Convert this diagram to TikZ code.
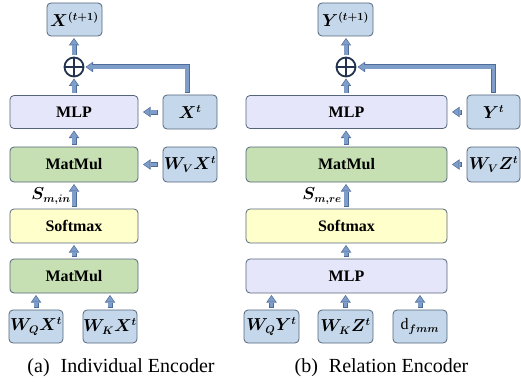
\documentclass[tikz,border=0pt]{standalone}
\usepackage{fontspec}
\setmainfont{Liberation Serif}
\usepackage{bm}
\usetikzlibrary{arrows.meta}

\definecolor{boxline}{HTML}{56657A}
\definecolor{bluefill}{HTML}{C5D8EB}
\definecolor{lavfill}{HTML}{E6E6FA}
\definecolor{greenfill}{HTML}{C6E0B4}
\definecolor{yellowfill}{HTML}{FFFFCC}
\definecolor{arrline}{HTML}{4E6C99}
\definecolor{arrfill}{HTML}{7F9DC9}
\definecolor{plusc}{HTML}{22324F}

\tikzset{
  box/.style={draw=boxline, line width=0.8pt, rounded corners=4pt, inner sep=0pt,
    outer sep=2pt, font=\fontsize{16}{19}\selectfont\bfseries},
  vecbox/.style={box, fill=bluefill},
  mlpbox/.style={box, fill=lavfill},
  mulbox/.style={box, fill=greenfill},
  softbox/.style={box, fill=yellowfill},
  % block arrows: a dark outline stroke with a lighter stroke on top
  arrout/.style={draw=arrline, line width=5pt,
    -{Triangle[width=10.5pt,length=7.5pt,line width=0pt]}},
  arrin/.style={draw=arrfill, line width=3.4pt, shorten >=1.2pt, shorten <=0.8pt,
    -{Triangle[width=7.8pt,length=5.4pt,line width=0pt]}},
  plus/.style={circle, draw=plusc, line width=1.8pt, minimum size=19pt, inner sep=0pt,
    outer sep=2pt, path picture={\draw[plusc, line width=1.8pt]
      (path picture bounding box.north) -- (path picture bounding box.south)
      (path picture bounding box.west) -- (path picture bounding box.east);}},
  caption/.style={font=\fontsize{20}{24}\selectfont, inner sep=0pt},
  slabel/.style={font=\fontsize{16}{19}\selectfont, inner sep=0pt, anchor=east},
}
\newcommand\flow[1]{\draw[arrout] #1; \draw[arrin] #1;}

\begin{document}
\begin{tikzpicture}[x=1pt, y=-1pt]
\useasboundingbox (0,0) rectangle (521,385);

% ---------------- (a) Individual Encoder ----------------
\node[vecbox, minimum width=55pt, minimum height=33pt] (xt1) at (74.5,19.5) {$\bm{X^{(t+1)}}$};
\node[plus] (plusL) at (74,67) {};
\node[mlpbox, minimum width=128pt, minimum height=33pt] (mlpL) at (74,112) {MLP};
\node[vecbox, minimum width=54pt, minimum height=34pt] (xt) at (190,112) {$\bm{X^{t}}$};
\node[mulbox, minimum width=128pt, minimum height=35pt] (matL) at (74,164.5) {MatMul};
\node[vecbox, minimum width=54pt, minimum height=35pt] (wvx) at (190,164.5) {$\bm{W_{V}X^{t}}$};
\node[softbox, minimum width=128pt, minimum height=34pt] (softL) at (74,226) {Softmax};
\node[mulbox, minimum width=128pt, minimum height=34pt] (mat2L) at (74,276) {MatMul};
\node[vecbox, minimum width=54pt, minimum height=33pt] (wqx) at (36,326.5) {$\bm{W_{Q}X^{t}}$};
\node[vecbox, minimum width=54pt, minimum height=33pt] (wkx) at (110,326.5) {$\bm{W_{K}X^{t}}$};
\node[slabel] (sin) at (71,196) {$\bm{S_{m,in}}$};
\node[caption] (capa) at (121,368) {(a)\hspace{0.55em}Individual Encoder};

\flow{(mlpL.north) -- (plusL.south)}
\flow{(plusL.north) -- (plusL.north |- xt1.south)}
\flow{([xshift=-3pt]xt.north) |- (plusL.east)}
\flow{([xshift=-3pt]xt.west) -- ([xshift=3pt]mlpL.east)}
\flow{(matL.north) -- (mlpL.south)}
\flow{([xshift=-3pt]wvx.west) -- ([xshift=3pt]matL.east)}
\flow{(softL.north) -- (matL.south)}
\flow{(mat2L.north) -- (softL.south)}
\flow{(wqx.north) -- (wqx.north |- mat2L.south)}
\flow{(wkx.north) -- (wkx.north |- mat2L.south)}

% ---------------- (b) Relation Encoder ----------------
\node[vecbox, minimum width=55pt, minimum height=33pt] (yt1) at (345.5,19.5) {$\bm{Y^{(t+1)}}$};
\node[plus] (plusR) at (346,67) {};
\node[mlpbox, minimum width=201pt, minimum height=33pt] (mlpR) at (346.5,112) {MLP};
\node[vecbox, minimum width=53pt, minimum height=34pt] (yt) at (493.5,112) {$\bm{Y^{t}}$};
\node[mulbox, minimum width=201pt, minimum height=35pt] (matR) at (346.5,164.5) {MatMul};
\node[vecbox, minimum width=53pt, minimum height=35pt] (wvz) at (493.5,164.5) {$\bm{W_{V}Z^{t}}$};
\node[softbox, minimum width=201pt, minimum height=34pt] (softR) at (346.5,226) {Softmax};
\node[mlpbox, minimum width=201pt, minimum height=34pt] (mlp2R) at (346.5,276) {MLP};
\node[vecbox, minimum width=55pt, minimum height=33pt] (wqy) at (271.5,326.5) {$\bm{W_{Q}Y^{t}}$};
\node[vecbox, minimum width=55pt, minimum height=33pt] (wkz) at (345.5,326.5) {$\bm{W_{K}Z^{t}}$};
\node[vecbox, minimum width=54pt, minimum height=33pt, font=\fontsize{16}{19}\selectfont] (dfmm) at (420,326.5) {$\mathrm{d}_{\bm{fmm}}$};
\node[slabel] (sre) at (342,196) {$\bm{S_{m,re}}$};
\node[caption] (capb) at (381.5,368) {(b)\hspace{0.55em}Relation Encoder};

\flow{(plusR.south |- mlpR.north) -- (plusR.south)}
\flow{(plusR.north) -- (plusR.north |- yt1.south)}
\flow{(yt.north) |- (plusR.east)}
\flow{([xshift=-3pt]yt.west) -- ([xshift=3pt]mlpR.east)}
\flow{(plusR.south |- matR.north) -- (plusR.south |- mlpR.south)}
\flow{([xshift=-3pt]wvz.west) -- ([xshift=3pt]matR.east)}
\flow{(plusR.south |- softR.north) -- (plusR.south |- matR.south)}
\flow{(plusR.south |- mlp2R.north) -- (plusR.south |- softR.south)}
\flow{(wqy.north) -- (wqy.north |- mlp2R.south)}
\flow{(wkz.north) -- (wkz.north |- mlp2R.south)}
\flow{(dfmm.north) -- (dfmm.north |- mlp2R.south)}
\end{tikzpicture}
\end{document}
